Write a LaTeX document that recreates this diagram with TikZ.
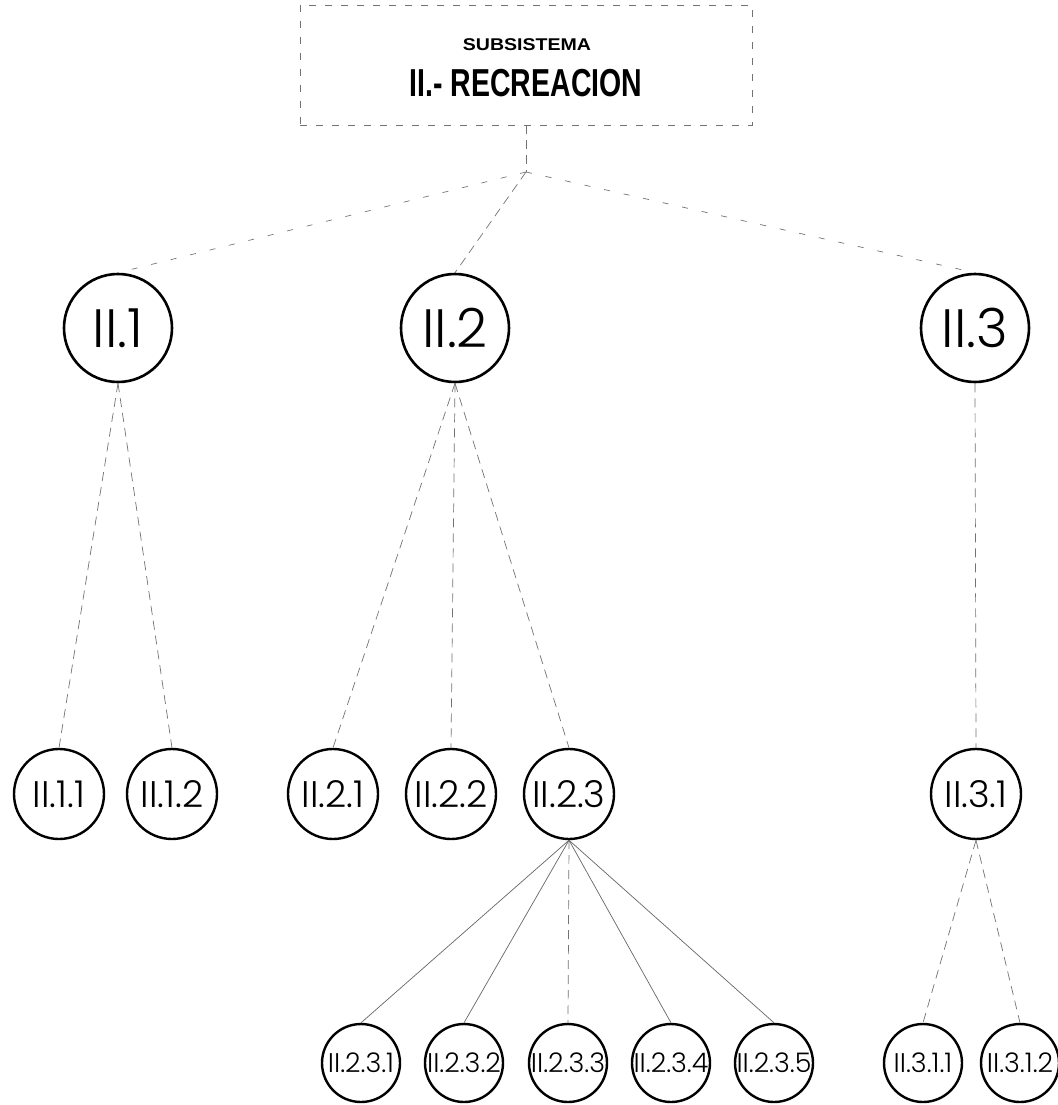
\documentclass[tikz,border=0pt]{standalone}
\usepackage{fontspec}
\setmainfont{Liberation Sans}
\newfontfamily\circfont{Poppins}[UprightFont=* Light]
\newcommand\hsq[2]{\scalebox{#1}[1]{#2}}
\begin{document}
\begin{tikzpicture}[x=1pt,y=-1pt,
  lvone/.style={circle,draw,line width=2.6pt,minimum size=108pt,inner sep=0pt,font=\circfont\fontsize{54}{54}\selectfont},
  lvtwo/.style={circle,draw,line width=2.4pt,minimum size=90pt,inner sep=0pt,font=\circfont\fontsize{37}{37}\selectfont},
  lvthree/.style={circle,draw,line width=2.4pt,minimum size=78pt,inner sep=0pt,font=\circfont\fontsize{27}{27}\selectfont},
  conn/.style={draw=black!55,line width=0.7pt,dash pattern=on 9pt off 6pt},
  sparse/.style={draw=black!55,line width=0.7pt,dash pattern=on 6pt off 14pt},
  solidconn/.style={draw=black!60,line width=0.7pt},
  boxst/.style={draw=black!55,line width=0.8pt,dash pattern=on 7pt off 9pt,minimum width=452pt,minimum height=120pt,inner sep=0pt}
]
\useasboundingbox (0,0) rectangle (1057,1105);
\fill[white] (0,0) rectangle (1057,1105);

\node[boxst] (top) at (526,65) {};
\node[font=\bfseries\fontsize{17}{17}\selectfont] (subs) at (527,45) {\hsq{1.15}{SUBSISTEMA}};
\node[font=\bfseries\fontsize{39}{39}\selectfont] (rec) at (526,83) {\hsq{0.73}{II.- RECREACION}};

\coordinate (hub) at (526,172);

\node[lvone] (n1) at (118,328) {II.1};
\node[lvone] (n2) at (455,328) {II.2};
\node[lvone] (n3) at (975,328) {II.3};

\node[lvtwo] (n11) at (59,794) {II.1.1};
\node[lvtwo] (n12) at (172,794) {II.1.2};
\node[lvtwo] (n21) at (333,794) {II.2.1};
\node[lvtwo] (n22) at (451,794) {II.2.2};
\node[lvtwo] (n23) at (569,794) {II.2.3};
\node[lvtwo] (n31) at (976,794) {II.3.1};

\node[lvthree] (n231) at (361,1063) {II.2.3.1};
\node[lvthree] (n232) at (464,1063) {II.2.3.2};
\node[lvthree] (n233) at (568,1063) {II.2.3.3};
\node[lvthree] (n234) at (671,1063) {II.2.3.4};
\node[lvthree] (n235) at (774,1063) {II.2.3.5};
\node[lvthree] (n311) at (923,1063) {II.3.1.1};
\node[lvthree] (n312) at (1020,1063) {II.3.1.2};

\draw[conn] (top.south) -- (hub);
\draw[sparse] (hub) -- (n1.north);
\draw[conn] (hub) -- (n2.north);
\draw[sparse] (hub) -- (n3.north);

\draw[conn] (n1.south) -- (n11.north);
\draw[conn] (n1.south) -- (n12.north);
\draw[conn] (n2.south) -- (n21.north);
\draw[conn] (n2.south) -- (n22.north);
\draw[conn] (n2.south) -- (n23.north);
\draw[conn] (n3.south) -- (n31.north);

\draw[solidconn] (n23.south) -- (n231.north);
\draw[solidconn] (n23.south) -- (n232.north);
\draw[conn] (n23.south) -- (n233.north);
\draw[solidconn] (n23.south) -- (n234.north);
\draw[solidconn] (n23.south) -- (n235.north);

\draw[conn] (n31.south) -- (n311.north);
\draw[conn] (n31.south) -- (n312.north);
\end{tikzpicture}
\end{document}
